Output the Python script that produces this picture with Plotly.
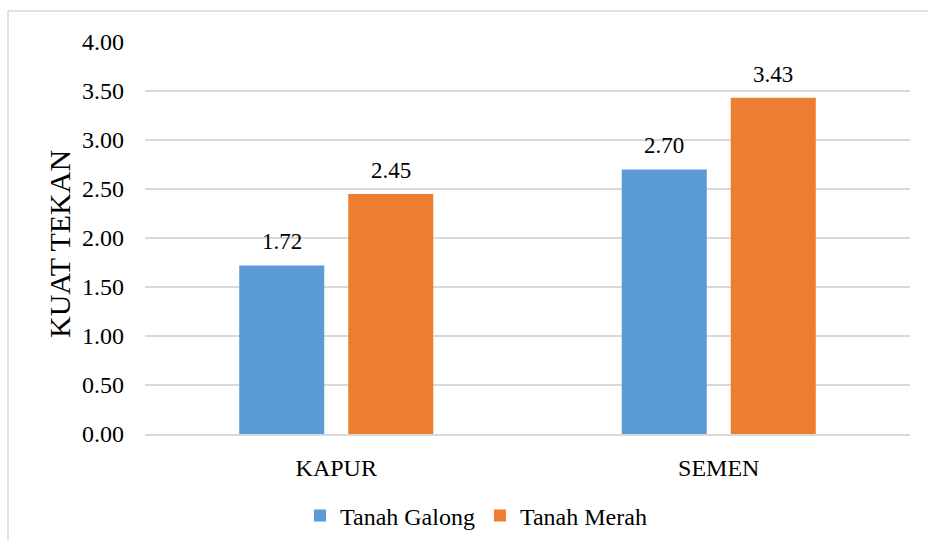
import plotly.graph_objects as go

categories = ["KAPUR", "SEMEN"]
galong = [1.72, 2.70]
merah = [2.45, 3.43]
y_ticks = [0, 0.5, 1.0, 1.5, 2.0, 2.5, 3.0, 3.5, 4.0]
y_title = "KUAT TEKAN"

FONT = "Liberation Serif"

fig = go.Figure()
fig.add_trace(go.Bar(
    name="Tanah Galong", x=categories, y=galong,
    marker=dict(color="#5B9BD5", line=dict(width=0)),
))
fig.add_trace(go.Bar(
    name="Tanah Merah", x=categories, y=merah,
    marker=dict(color="#ED7D31", line=dict(width=0)),
))

L, R, T, B = 145, 18, 42, 106
W, H = 928, 540
pw, ph = W - L - R, H - T - B
offset = 54.5

annotations = []
for series, sh in ((galong, -offset), (merah, offset)):
    for c, v in zip(categories, series):
        annotations.append(dict(x=c, y=v, xref="x", yref="y", text=f"{v:.2f}",
                                showarrow=False, yanchor="bottom", xshift=sh, yshift=9,
                                font=dict(family=FONT, size=23, color="#000")))
annotations.append(dict(x=(59 - L) / pw, y=(T + ph - 244) / ph, xref="paper", yref="paper",
                        text=y_title, textangle=-90, showarrow=False,
                        xanchor="center", yanchor="middle",
                        font=dict(family=FONT, size=30, color="#000")))

fig.update_layout(
    width=W, height=H,
    margin=dict(l=L, r=R, t=T, b=B, autoexpand=False),
    paper_bgcolor="white", plot_bgcolor="white",
    barmode="group", bargap=0.43, bargroupgap=0.22,
    font=dict(family=FONT, size=24, color="#000"),
    showlegend=True,
    legend=dict(orientation="h", x=(476 - L) / pw, xanchor="center",
                y=(T + ph - 516) / ph, yanchor="middle",
                font=dict(family=FONT, size=24, color="#000"),
                itemwidth=30, traceorder="normal"),
    xaxis=dict(showgrid=False, showline=True, linecolor="#D9D9D9", linewidth=1.5,
               ticks="", tickfont=dict(family=FONT, size=24, color="#000"),
               ticklabelstandoff=11, automargin=False),
    yaxis=dict(range=[0, 4], tickvals=y_ticks,
               ticktext=[f"{v:.2f}" for v in y_ticks],
               showgrid=True, gridcolor="#D9D9D9", gridwidth=1.5,
               zeroline=False, showline=False, ticks="",
               tickfont=dict(family=FONT, size=24, color="#000"),
               ticklabelstandoff=20, automargin=False),
    annotations=annotations,
    shapes=[dict(type="rect", xref="paper", yref="paper",
                 x0=(8 - L) / pw, x1=(940 - L) / pw,
                 y0=(T + ph - 560) / ph, y1=1 + (T - 11) / ph,
                 line=dict(color="#D9D9D9", width=1.5), fillcolor="rgba(0,0,0,0)",
                 layer="below")],
)

fig.write_html("out.html", config=dict(displayModeBar=False),
               post_script="document.body.style.margin='0';")
